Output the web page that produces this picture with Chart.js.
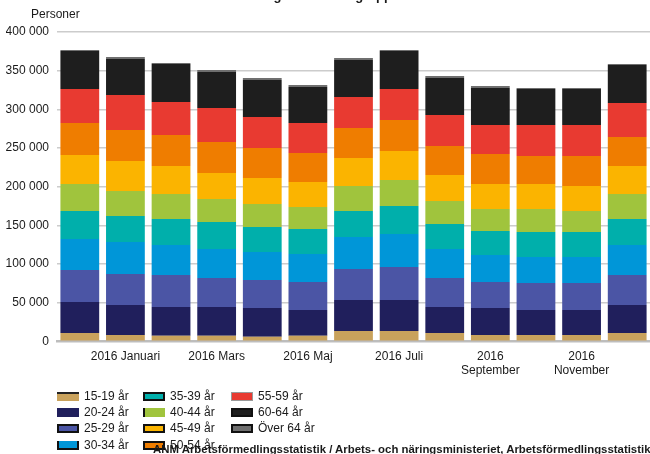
<!DOCTYPE html>
<html lang="sv">
<head>
<meta charset="utf-8">
<title>Arbetslösa efter åldersgrupp</title>
<script src="https://cdn.jsdelivr.net/npm/chart.js@4/dist/chart.umd.min.js"></script>
<style>
  html, body { margin: 0; padding: 0; background: #fff; }
  body { width: 650px; height: 454px; overflow: hidden; position: relative;
         font-family: "Liberation Sans", Arial, sans-serif; color: #1a1a1a; }
  #wrap { position: absolute; left: 0; top: 0; width: 650px; height: 454px; }
  .txt { position: absolute; white-space: nowrap; font-size: 12px; line-height: 12px; }
  #title { font-weight: bold; font-size: 13px; line-height: 13px; top: -11px; right: 258px; }
  #unit { left: 31px; top: 8px; }
  .lg-box { position: absolute; width: 22px; height: 9px; box-sizing: border-box; }
  #source { font-weight: bold; font-size: 11.4px; left: 153px; top: 443px; }
</style>
</head>
<body>
<div id="wrap"><canvas id="chart" width="650" height="454"></canvas></div>
<div class="txt" id="title">Fördelning efter åldersgrupp</div>
<div class="txt" id="unit">Personer</div>
<div id="legend"></div>
<div class="txt" id="source">ANM Arbetsförmedlingsstatistik / Arbets- och näringsministeriet, Arbetsförmedlingsstatistik</div>
<script>
"use strict";

const CATEGORIES = [
  "2015 December", "2016 Januari", "2016 Februari", "2016 Mars", "2016 April",
  "2016 Maj", "2016 Juni", "2016 Juli", "2016 Augusti", "2016 September",
  "2016 Oktober", "2016 November", "2016 December",
];
const TICK_LABELS = [
  "", "2016 Januari", "", "2016 Mars", "", "2016 Maj", "", "2016 Juli", "",
  ["2016", "September"], "", ["2016", "November"], "",
];
const Y_TICKS = [0, 50000, 100000, 150000, 200000, 250000, 300000, 350000, 400000];

const SERIES_NAMES = [
  "15-19 år", "20-24 år", "25-29 år", "30-34 år", "35-39 år", "40-44 år",
  "45-49 år", "50-54 år", "55-59 år", "60-64 år", "Över 64 år",
];
const AGE_15_19 = [10700, 8100, 6900, 6900, 5600, 6900, 13300, 13300, 10700, 8100, 8100, 8100, 10700];
const AGE_20_24 = [40100, 38800, 37500, 37500, 37500, 33600, 40100, 40100, 33700, 35000, 32400, 32400, 36200];
const AGE_25_29 = [41400, 40100, 41300, 37500, 36200, 36200, 40100, 42700, 37500, 33600, 34900, 34900, 38800];
const AGE_30_34 = [40100, 41400, 38800, 37500, 36200, 36200, 41400, 42700, 37500, 34900, 33600, 33600, 38800];
const AGE_35_39 = [36200, 33600, 33600, 34900, 32300, 32300, 33600, 36200, 32300, 31000, 32300, 32300, 33600];
const AGE_40_44 = [34900, 32300, 32400, 29700, 29800, 28500, 32300, 33600, 29700, 28500, 29800, 27200, 32400];
const AGE_45_49 = [37500, 38800, 36200, 33600, 33600, 32300, 36300, 37500, 33600, 32300, 32300, 32300, 36200];
const AGE_50_54 = [41400, 40100, 40100, 40100, 38800, 37500, 38800, 40100, 37500, 38800, 36200, 38800, 37500];
const AGE_55_59 = [43900, 45300, 42600, 44000, 40000, 38800, 40100, 40000, 40100, 37500, 40100, 40100, 44000];
const AGE_60_64 = [49200, 46500, 49200, 46600, 47900, 46600, 47800, 49200, 47900, 47900, 46500, 46500, 49100];
const AGE_OVER_64 = [1300, 2600, 1300, 2600, 2600, 2500, 2600, 1300, 2500, 2600, 1400, 1400, 1300];

const SERIES = [
  AGE_15_19, AGE_20_24, AGE_25_29, AGE_30_34, AGE_35_39, AGE_40_44,
  AGE_45_49, AGE_50_54, AGE_55_59, AGE_60_64, AGE_OVER_64,
];
const COLORS = [
  "#c9a25c", "#201f5c", "#4b55a5", "#0096d8", "#00afab", "#a0c43d",
  "#fbb400", "#ef7d00", "#e83a31", "#1e1e1e", "#6f6f6f",
];
// legend boxes in the original have uneven dark outlines
const LEGEND_BORDERS = [
  "border-top:2px solid #222", "none", "border:2px solid #111", "border:2px solid #111; border-top:none",
  "border:2px solid #111", "border-left:2px solid #111", "border:2px solid #111", "border:2px solid #111",
  "border:1px solid #999", "border:2px solid #111", "border:2.5px solid #111",
];

function formatThousands(v) {
  return String(v).replace(/\B(?=(\d{3})+(?!\d))/g, " ");
}

function buildLegend() {
  const root = document.getElementById("legend");
  const colX = [57, 143, 231];
  const rowY = [396.5, 412, 428.5, 445.5];
  SERIES_NAMES.forEach((name, i) => {
    const col = Math.floor(i / 4);
    const row = i % 4;
    const box = document.createElement("div");
    box.className = "lg-box";
    box.style.cssText = LEGEND_BORDERS[i];
    box.style.left = colX[col] + "px";
    box.style.top = (rowY[row] - 4.5) + "px";
    box.style.background = COLORS[i];
    root.appendChild(box);
    const label = document.createElement("div");
    label.className = "txt";
    label.textContent = name;
    label.style.left = (colX[col] + 27) + "px";
    label.style.top = (rowY[row] - 6.5) + "px";
    root.appendChild(label);
  });
}

function renderChart() {
  Chart.defaults.font.family = "'Liberation Sans', Arial, sans-serif";
  Chart.defaults.font.size = 12;
  Chart.defaults.color = "#1a1a1a";

  const datasets = SERIES.map((values, i) => ({
    label: SERIES_NAMES[i],
    data: values,
    backgroundColor: COLORS[i],
    borderWidth: 0,
    barPercentage: 0.85,
    categoryPercentage: 1.0,
  }));

  new Chart(document.getElementById("chart"), {
    type: "bar",
    data: { labels: CATEGORIES, datasets: datasets },
    options: {
      responsive: false,
      animation: false,
      layout: { padding: { top: 32, left: 6, right: 0, bottom: 76 } },
      plugins: { legend: { display: false }, tooltip: { enabled: false } },
      scales: {
        x: {
          stacked: true,
          grid: { display: false },
          border: { display: true, color: "#bdbdbd", width: 2.5 },
          ticks: {
            autoSkip: false,
            maxRotation: 0,
            padding: 0,
            callback: (value, index) => TICK_LABELS[index] || null,
          },
        },
        y: {
          stacked: true,
          min: 0,
          max: 400000,
          afterBuildTicks: (axis) => { axis.ticks = Y_TICKS.map((v) => ({ value: v })); },
          afterFit: (axis) => { axis.width = 51; },
          grid: { color: "#cccccc", lineWidth: 1.5, drawTicks: false },
          border: { display: false },
          ticks: { padding: 8, callback: (v) => formatThousands(v) },
        },
      },
    },
  });
}

document.addEventListener("DOMContentLoaded", () => {
  buildLegend();
  renderChart();
});
</script>
</body>
</html>
